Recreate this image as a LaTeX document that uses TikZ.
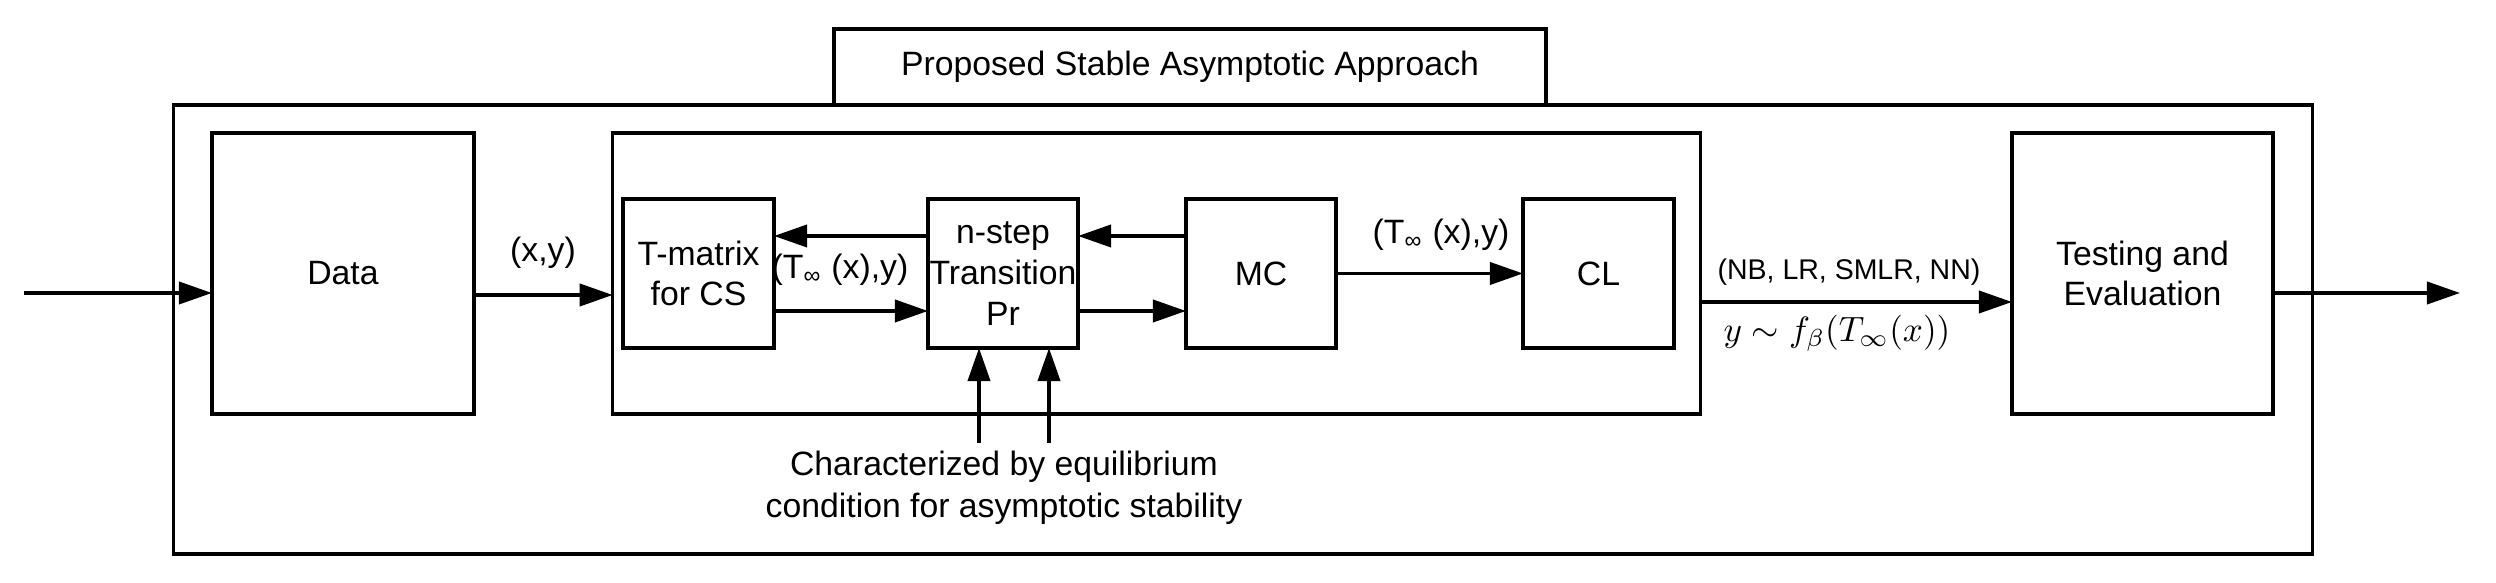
\documentclass[tikz,border=0pt]{standalone}
\usepackage{fontspec}
\setmainfont{Liberation Sans}
\usetikzlibrary{arrows.meta,positioning,calc}

\begin{document}
\begin{tikzpicture}[x=0.01cm, y=-0.01cm, >={Triangle[length=9.4pt,width=6.3pt]}, line join=miter]

% --- Global TikZ Styles ---
\tikzset{
    block/.style={
        draw=black,
        line width=1pt,
        inner sep=0pt,
        outer sep=0pt,
        align=center,
        font=\fontsize{9.6}{11.6}\selectfont
    },
    flow/.style={
        ->,
        line width=1pt,
        draw=black
    },
    lbl/.style={
        inner sep=0pt,
        align=center,
        font=\fontsize{9.6}{12}\selectfont
    },
    smalllbl/.style={
        inner sep=0pt,
        font=\fontsize{8.1}{9.7}\selectfont
    }
}

\useasboundingbox (0,0) rectangle (2496,583);

% =========================================================================
% --- Frame and title ---
% =========================================================================
\node[block, minimum width=21.38cm, minimum height=4.49cm] (outer) at (1243,329.5) {};
\node[block, fill=white, minimum width=7.12cm, minimum height=0.76cm] (title) at (1190,67)
    {Proposed Stable Asymptotic Approach};

% --- Main blocks ---
\node[block, minimum width=2.62cm, minimum height=2.81cm] (data) at (343,273.5) {Data};
\node[block, minimum width=10.87cm, minimum height=2.81cm] (inner) at (1156.5,273.5) {};
\node[block, minimum width=2.61cm, minimum height=2.81cm] (testing) at (2142.5,273.5)
    {Testing and\\Evaluation};

% --- Inner chain ---
\node[block, minimum width=1.51cm, minimum height=1.49cm] (tmat) at (698.5,273.5) {T-matrix\\for CS};
\node[block, minimum width=1.50cm, minimum height=1.49cm] (nstep) at (1003,273.5) {n-step\\Transition\\Pr};
\node[block, minimum width=1.50cm, minimum height=1.49cm] (mc) at (1261,273.5) {MC};
\node[block, minimum width=1.51cm, minimum height=1.49cm] (cl) at (1598.5,273.5) {CL};

% --- Free ends ---
\coordinate (in) at (24,293);
\coordinate (out) at (2460,293);
\coordinate (eqA) at (979,443);
\coordinate (eqB) at (1049,443);

% =========================================================================
% --- Connectors ---
% =========================================================================
\draw[flow] (in) -- (in -| data.west);
\draw[flow] ($(data.east)+(0,21.5)$) -- ($(inner.west)+(0,21.5)$);

\draw[flow] ($(nstep.west)+(0,-37.5)$) -- ($(tmat.east)+(0,-37.5)$);
\draw[flow] ($(tmat.east)+(0,37.5)$) -- ($(nstep.west)+(0,37.5)$);
\draw[flow] ($(mc.west)+(0,-37.5)$) -- ($(nstep.east)+(0,-37.5)$);
\draw[flow] ($(nstep.east)+(0,37.5)$) -- ($(mc.west)+(0,37.5)$);
\draw[flow] (mc) -- (cl);

\draw[flow] ($(inner.east)+(0,28.5)$) -- ($(testing.west)+(0,28.5)$);
\draw[flow] (testing.east |- out) -- (out);

\draw[flow] (eqA) -- (eqA |- nstep.south);
\draw[flow] (eqB) -- (eqB |- nstep.south);

% --- Labels ---
\node[lbl] (xy) at (543,253) {(x,y)};
\node[lbl] (tinfA) at (840,270) {(T\textsubscript{∞} (x),y)};
\node[lbl] (tinfB) at (1441,235) {(T\textsubscript{∞} (x),y)};
\node[smalllbl] (models) at (1849,272) {(NB, LR, SMLR, NN)};
\node[lbl] (rule) at (1837,333) {$y \sim f_\beta(T_\infty(x))$};
\node[lbl] (cond) at (1004,488)
    {Characterized by equilibrium\\condition for asymptotic stability};

\end{tikzpicture}
\end{document}
